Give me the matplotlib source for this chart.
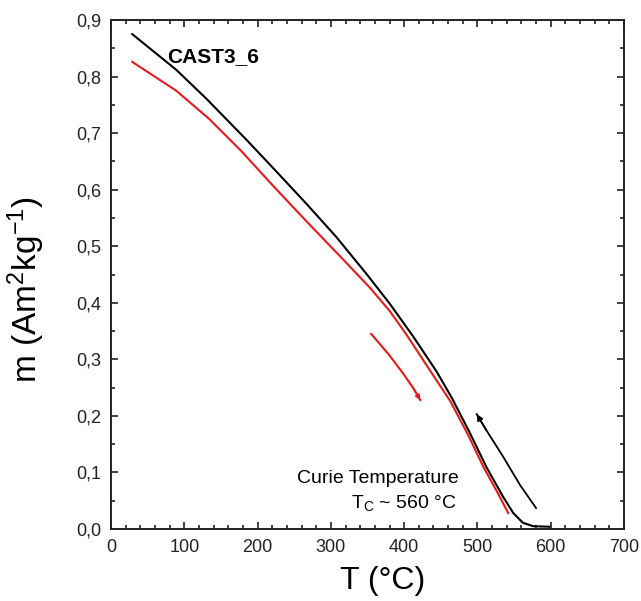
import numpy as np
import matplotlib
matplotlib.use("Agg")
import matplotlib.pyplot as plt
from matplotlib.ticker import MultipleLocator, FixedLocator, FixedFormatter

plt.rcParams['font.family'] = ['Liberation Sans', 'DejaVu Sans']
plt.rcParams['mathtext.fontset'] = 'custom'
plt.rcParams['mathtext.rm'] = 'Liberation Sans'
plt.rcParams['mathtext.it'] = 'Liberation Sans:italic'
plt.rcParams['mathtext.bf'] = 'Liberation Sans:bold'

# heating curve (black)
T_heat = [29, 89, 130, 185, 225, 266, 307, 348, 380, 412, 444, 465, 490, 512, 535, 549, 562, 576, 598]
m_heat = [0.875, 0.812, 0.761, 0.688, 0.633, 0.576, 0.517, 0.452, 0.399, 0.341, 0.279, 0.232,
          0.169, 0.110, 0.057, 0.028, 0.011, 0.005, 0.004]

# cooling curve (red)
T_cool = [29, 89, 134, 178, 221, 266, 312, 353, 380, 403, 439, 463, 487, 508, 528, 542]
m_cool = [0.826, 0.775, 0.725, 0.668, 0.607, 0.545, 0.483, 0.427, 0.386, 0.344, 0.273, 0.226,
          0.167, 0.110, 0.063, 0.028]

# short red segment with arrow (low T part)
T_red_arrow = [355, 380, 398, 412, 422]
m_red_arrow = [0.345, 0.307, 0.276, 0.250, 0.228]

# black segment with arrow (near Tc)
T_blk_arrow = [580, 558, 535, 512, 499]
m_blk_arrow = [0.037, 0.078, 0.128, 0.175, 0.203]

x_ticks = [0, 100, 200, 300, 400, 500, 600, 700]
y_ticks = [0.0, 0.1, 0.2, 0.3, 0.4, 0.5, 0.6, 0.7, 0.8, 0.9]
y_tick_labels = ['0,0', '0,1', '0,2', '0,3', '0,4', '0,5', '0,6', '0,7', '0,8', '0,9']

fig = plt.figure(figsize=(6.41, 6.01), dpi=100)
ax = fig.add_axes([0.1732, 0.1198, 0.8003, 0.8469])

ax.plot(T_heat, m_heat, '-', color='black', lw=1.5)
ax.plot(T_cool, m_cool, '-', color='#e8191c', lw=1.5)
ax.plot(T_red_arrow, m_red_arrow, '-', color='#e8191c', lw=1.5)
ax.plot(T_blk_arrow, m_blk_arrow, '-', color='black', lw=1.3)

# arrow heads
ax.annotate('', xy=(T_red_arrow[-1], m_red_arrow[-1]), xytext=(T_red_arrow[-2], m_red_arrow[-2]),
            arrowprops=dict(arrowstyle='-|>', color='#e8191c', lw=1.2, mutation_scale=7,
                            shrinkA=0, shrinkB=0))
ax.annotate('', xy=(T_blk_arrow[-1], m_blk_arrow[-1]), xytext=(T_blk_arrow[-2], m_blk_arrow[-2]),
            arrowprops=dict(arrowstyle='-|>', color='black', lw=1.2, mutation_scale=9,
                            shrinkA=0, shrinkB=0))

ax.set_xlim(0, 700)
ax.set_ylim(0, 0.9)
ax.xaxis.set_major_locator(FixedLocator(x_ticks))
ax.xaxis.set_minor_locator(MultipleLocator(20))
ax.yaxis.set_major_locator(FixedLocator(y_ticks))
ax.yaxis.set_major_formatter(FixedFormatter(y_tick_labels))
ax.yaxis.set_minor_locator(MultipleLocator(0.05))

ax.tick_params(which='both', direction='in', top=True, right=True, width=1.2, labelsize=13,
               colors='#222222')
ax.tick_params(which='major', length=5, pad=7)
ax.tick_params(which='minor', length=2.8)
for sp in ax.spines.values():
    sp.set_linewidth(1.4)
    sp.set_color('#222222')

ax.set_xlabel('T (°C)', fontsize=23)
ax.xaxis.set_label_coords(0.53, -0.072)
ax.xaxis.label.set_va('top')
ax.set_ylabel(r'm (Am$^{2}$kg$^{-1}$)', fontsize=24)
ax.yaxis.set_label_coords(-0.125, 0.47)

ax.text(77, 0.826, 'CAST3_6', fontsize=15, fontweight='bold', ha='left', va='baseline')
ax.text(474, 0.082, 'Curie Temperature', fontsize=14, ha='right', va='baseline')
ax.text(472, 0.037, r'T$_{\rm C}$ ~ 560 °C', fontsize=14, ha='right', va='baseline')

fig.savefig('out.png', dpi=100)
